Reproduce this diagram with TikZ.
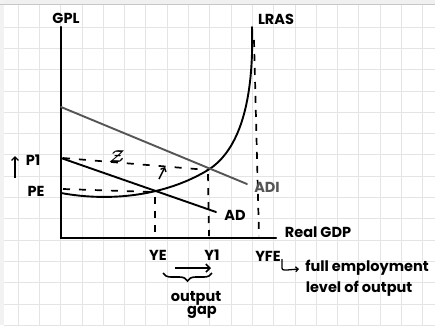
\documentclass[tikz,border=0pt]{standalone}
\usepackage{amsmath}
\usepackage{fontspec}
\setmainfont{Poppins}
\usetikzlibrary{arrows.meta,decorations.pathreplacing}
\definecolor{gridc}{HTML}{E4E4E4}
\definecolor{adigrey}{HTML}{555555}
\begin{document}
\begin{tikzpicture}[x=1pt,y=-1pt,
  lbl/.style={inner sep=0pt,font=\fontsize{14.5}{15}\selectfont\bfseries},
  axisline/.style={line width=2.4pt,line cap=round},
  curveline/.style={line width=1.9pt,line cap=round},
  dashline/.style={line width=1.7pt,dash pattern=on 7pt off 9pt},
  vdash/.style={line width=1.7pt,dash pattern=on 7pt off 7pt}]
% background
\useasboundingbox (0,0) rectangle (435,325);
\fill[white] (0,0) rectangle (435,325);
\fill[black!6] (0,0) rectangle (435,4);
\fill[black!5] (0,0) rectangle (4,325);
\foreach \i in {0,...,19} \draw[gridc,line width=0.7pt] (18+21.3*\i,5) -- (18+21.3*\i,325);
\foreach \j in {0,...,14} \draw[gridc,line width=0.7pt] (4,27+21.3*\j) -- (435,27+21.3*\j);
\draw[black!22,line width=1pt] (0,4.5) -- (435,4.5);
% coordinates
\coordinate (O) at (61,238);
\coordinate (T) at (61,27);
\coordinate (X) at (276,238);
\coordinate (L0) at (61,193);
\coordinate (E1) at (208,170);
\coordinate (LT) at (252,27);
\coordinate (ADIa) at (61,107);
\coordinate (ADIb) at (247,184);
\coordinate (ADa) at (61,158);
\coordinate (ADb) at (216,212);
\coordinate (P1s) at (63,158);
\coordinate (PEs) at (63,189);
\coordinate (E0) at (153,192);
\coordinate (YEt) at (155,197);
\coordinate (YEb) at (155,236);
\coordinate (Y1t) at (208,174);
\coordinate (Y1b) at (209,236);
\coordinate (FEt) at (254,40);
\coordinate (FEb) at (259,236);
% axes
\draw[axisline] (T) -- (O) -- (X);
% curves
\draw[curveline] (L0) .. controls (110,202) and (165,196) .. (E1)
  .. controls (240,150) and (254,100) .. (LT);
\draw[curveline,adigrey] (ADIa) -- (ADIb);
\draw[curveline] (ADa) -- (ADb);
% dashed
\draw[dashline] (P1s) -- (E1);
\draw[dashline] (PEs) -- (E0);
\draw[vdash] (YEt) -- (YEb);
\draw[vdash] (Y1t) -- (Y1b);
\draw[vdash] (FEt) -- (FEb);
% labels
\node[lbl] (gpl) at (66,18) {GPL};
\node[lbl] (lras) at (276,19) {LRAS};
\node[lbl] (p1) at (33,160) {P1};
\coordinate (upA) at (15,178);
\coordinate (upB) at (15,156);
\draw[line width=1.4pt,-{Straight Barb[length=3.5pt,width=7pt]}] (upA) -- (upB);
\node[lbl] (pe) at (36,191) {PE};
\node[lbl] (ye) at (158,255) {YE};
\node[lbl] (y1) at (212,255) {Y1};
\node[lbl] (yfe) at (268,256) {YFE};
\node[lbl] (rgdp) at (318,232) {Real GDP};
\node[lbl,text=adigrey] (adi) at (267,187) {ADI};
\node[lbl] (ad) at (235,215) {AD};
\node[lbl] (fe) at (367,268) {full employment};
\node[lbl] (lvl) at (359,289) {level of output};
\node[lbl] (out) at (196,298) {output};
\node[lbl] (gap) at (202,312) {gap};
\node[inner sep=0pt,font=\fontsize{18}{18}\selectfont] (z) at (117,157) {$\boldsymbol{\mathcal{Z}}$};
% small arrow
\coordinate (sa) at (159,179);
\coordinate (sb) at (165,167);
\draw[line width=1.4pt,-{Straight Barb[length=3pt,width=6pt]}] (sa) -- (sb);
% gap arrow
\coordinate (ga) at (175,268);
\coordinate (gb) at (211,268);
\draw[line width=1.6pt,-{Straight Barb[length=4pt,width=8pt]}] (ga) -- (gb);
% brace
\coordinate (ba) at (212,273);
\coordinate (bb) at (163,273);
\draw[line width=1.6pt,decorate,decoration={brace,amplitude=8pt}] (ba) -- (bb);
% hook arrow
\coordinate (ha) at (282,259);
\coordinate (hb) at (299,269);
\draw[line width=1.3pt,-{Straight Barb[length=2.5pt,width=5pt]}] (ha) -- (282,266) .. controls (282,270) .. (287,270) -- (hb);
\end{tikzpicture}
\end{document}
